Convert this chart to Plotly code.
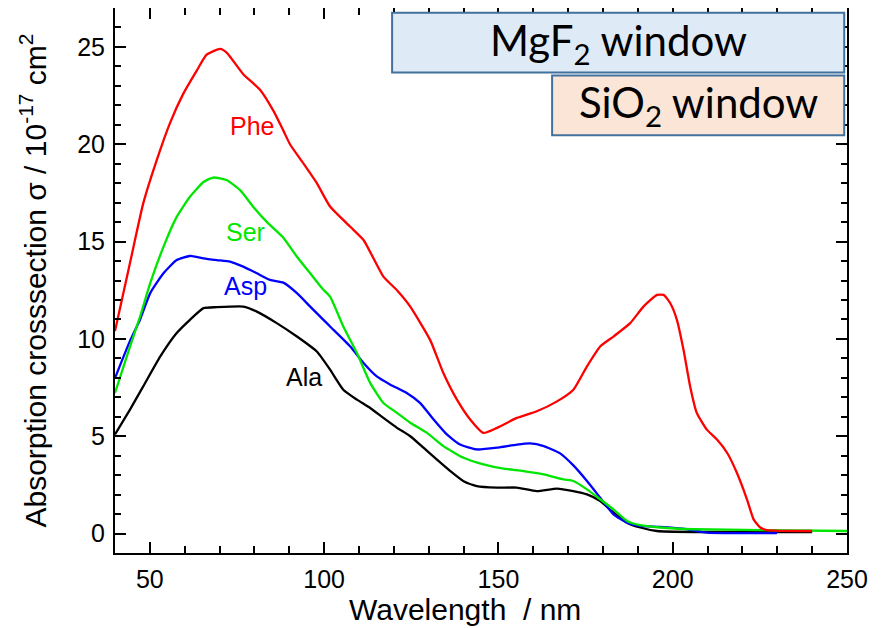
import plotly.graph_objects as go

# ---- data ----
phe_x = [40, 44.3, 48.1, 52.0, 55.8, 59.6, 63.5, 66.3, 70.2, 72.1, 76.8, 81.6, 85.5, 88.3, 90.2,
         94.1, 97.9, 101.7, 107.5, 111.3, 117.0, 120.9, 124.7, 130.4, 134.2, 138.1, 141.9, 145.7,
         149.6, 155.3, 161.0, 166.8, 171.5, 175.4, 179.2, 183.0, 187.8, 191.6, 195.5, 197.4, 199.3,
         201.2, 203.1, 205.0, 206.9, 209.8, 212.7, 215.6, 218.4, 221.3, 223.2, 225.1, 227.0, 240]
phe_y = [10.4, 13.9, 16.96, 19.2, 21.1, 22.6, 23.8, 24.6, 24.9, 24.7, 23.6, 22.8, 21.7, 20.7, 20.0,
         19.0, 18.0, 16.8, 15.76, 15.08, 13.2, 12.5, 11.66, 9.95, 8.25, 6.88, 5.86, 5.17,
         5.43, 5.94, 6.28, 6.79, 7.39, 8.59, 9.61, 10.12, 10.81, 11.66, 12.26, 12.26, 11.83,
         10.98, 9.44, 7.56, 6.2, 5.34, 4.83, 4.15, 3.12, 1.76, 0.73, 0.31, 0.18, 0.13]

ser_x = [40, 44.3, 47.2, 50.1, 53.9, 57.7, 61.5, 65.4, 68.2, 72.1, 75.9, 79.7, 83.6, 88.3, 92.2,
         96.0, 99.8, 101.7, 105.5, 109.4, 113.2, 117.0, 120.9, 124.7, 129.5, 134.2, 140.0, 145.7,
         151.5, 157.2, 163.0, 168.7, 171.5, 175.4, 179.2, 183.0, 186.9, 190.7, 196.4, 206.0, 225.1, 250]
ser_y = [7.22, 9.6, 11.15, 12.86, 14.73, 16.27, 17.3, 18.06, 18.29, 18.15, 17.64, 16.78, 16.0, 15.2, 14.22,
         13.37, 12.52, 12.17, 10.64, 9.27, 7.74, 6.71, 6.2, 5.69, 5.17, 4.49, 3.89, 3.55,
         3.33, 3.21, 3.04, 2.78, 2.70, 2.27, 1.76, 1.24, 0.65, 0.43, 0.31, 0.22, 0.18, 0.13]

asp_x = [40, 44.3, 47.2, 50.1, 53.9, 57.7, 61.5, 65.4, 69.2, 73.0, 76.8, 80.7, 84.5, 88.3, 92.2,
         96.0, 99.8, 101.7, 107.5, 111.3, 115.1, 119.0, 123.7, 127.5, 131.4, 135.2, 139.0, 143.8,
         149.6, 155.3, 159.1, 163.0, 167.7, 171.5, 175.4, 179.2, 183.0, 186.9, 190.7, 196.4, 204.1,
         209.8, 229.9]
asp_y = [7.99, 9.9, 11.0, 12.35, 13.37, 14.05, 14.26, 14.14, 14.05, 13.97, 13.71, 13.37, 13.03, 12.89, 12.35,
         11.66, 10.98, 10.64, 9.61, 8.76, 8.07, 7.65, 7.22, 6.71, 5.86, 5.09, 4.57, 4.32,
         4.41, 4.57, 4.63, 4.49, 4.12, 3.5, 2.7, 1.84, 0.99, 0.56, 0.39, 0.34, 0.22,
         0.05, 0.02]

ala_x = [40, 44.3, 48.1, 53.0, 57.7, 61.5, 65.4, 69.2, 73.0, 76.8, 80.7, 86.4, 92.2, 97.9, 101.7,
         105.5, 109.4, 113.2, 117.0, 120.9, 124.7, 128.5, 132.3, 136.2, 140.0, 143.8, 149.6, 155.3,
         161.0, 166.8, 171.5, 175.4, 179.2, 183.0, 186.9, 190.7, 195.5, 206.0, 240]
ala_y = [5.09, 6.37, 7.56, 9.1, 10.3, 10.98, 11.58, 11.63, 11.66, 11.66, 11.4, 10.81, 10.12, 9.35, 8.42,
         7.39, 6.88, 6.45, 5.94, 5.43, 5.0, 4.41, 3.81, 3.21, 2.69, 2.44, 2.36, 2.36,
         2.18, 2.31, 2.18, 2.01, 1.67, 1.08, 0.56, 0.31, 0.13, 0.08, 0.08]

x_ticks = [50, 100, 150, 200, 250]
y_ticks = [0, 5, 10, 15, 20, 25]

series = [
    ("Ala", ala_x, ala_y, "#000000"),
    ("Asp", asp_x, asp_y, "#0000ff"),
    ("Ser", ser_x, ser_y, "#00e600"),
    ("Phe", phe_x, phe_y, "#ff0000"),
]
labels = [("Phe", 79.4, 20.95, "#ff0000"), ("Ser", 77.5, 15.5, "#00e600"),
          ("Asp", 77.5, 12.7, "#0000ff"), ("Ala", 94.3, 8.05, "#000000")]

FONT = "Liberation Sans"

fig = go.Figure()
for name, xs, ys, col in series:
    fig.add_trace(go.Scatter(x=xs, y=ys, mode="lines", name=name,
                             line=dict(color=col, width=2.3, shape="spline", smoothing=0.5)))

for txt, x, y, col in labels:
    fig.add_annotation(x=x, y=y, text=txt, showarrow=False, xanchor="center", yanchor="middle",
                       font=dict(family=FONT, size=25, color=col))

# window boxes
fig.add_shape(type="rect", x0=119.5, x1=249.2, y0=23.68, y1=26.76,
              fillcolor="#deebf7", line=dict(color="#41719c", width=2), layer="above")
fig.add_shape(type="rect", x0=165.4, x1=249.2, y0=20.46, y1=23.53,
              fillcolor="#fbe5d6", line=dict(color="#41719c", width=2), layer="above")
fig.add_annotation(x=(119.5 + 249.2) / 2, y=(23.68 + 26.76) / 2, text="MgF<sub>2</sub> window",
                   showarrow=False, xanchor="center", yanchor="middle",
                   font=dict(family="Lato", size=42, color="#000000"))
fig.add_annotation(x=(165.4 + 249.2) / 2, y=(20.46 + 23.53) / 2, text="SiO<sub>2</sub> window",
                   showarrow=False, xanchor="center", yanchor="middle",
                   font=dict(family="Lato", size=42, color="#000000"))

# x-axis title (slightly left of the plot centre, as in the reference)
fig.add_annotation(xref="paper", yref="paper", x=0.478, y=-0.104, text="Wavelength\u00a0 / nm",
                   showarrow=False, xanchor="center", yanchor="middle",
                   font=dict(family=FONT, size=30, color="#000000"))

axis_common = dict(showline=True, linecolor="#000000", linewidth=2, mirror="allticks",
                   ticks="inside", tickcolor="#000000", tickwidth=2, showgrid=False, zeroline=False,
                   automargin=False, ticklabelstandoff=3,
                   tickfont=dict(family=FONT, size=25, color="#000000"))

fig.update_xaxes(range=[40, 250], tickvals=x_ticks, ticklen=11,
                 minor=dict(dtick=10, tick0=0, ticks="inside", ticklen=7, tickcolor="#000000", tickwidth=2),
                 **axis_common)
fig.update_yaxes(range=[-1, 27], tickvals=y_ticks, ticklen=11,
                 minor=dict(dtick=1, tick0=0, ticks="inside", ticklen=6, tickcolor="#000000", tickwidth=2),
                 title=dict(text="Absorption crosssection σ / 10<sup>-17</sup> cm<sup>2</sup>", standoff=22,
                            font=dict(family=FONT, size=30, color="#000000")),
                 **axis_common)

fig.update_layout(width=875, height=620, margin=dict(l=107, r=36, t=0, b=75),
                  paper_bgcolor="white", plot_bgcolor="white", showlegend=False)

fig.write_html("out.html")
